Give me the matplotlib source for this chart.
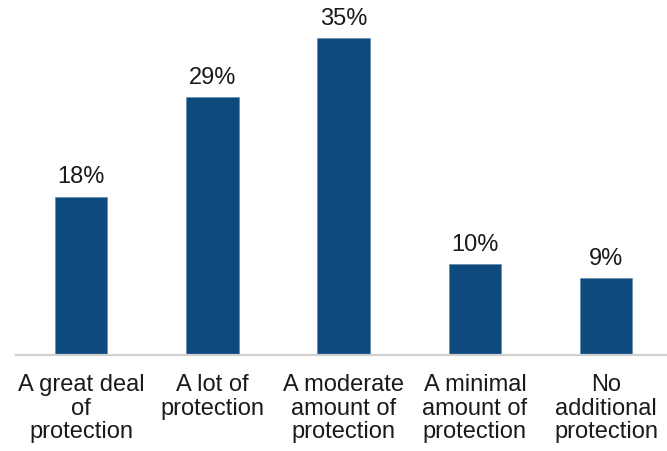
import matplotlib
matplotlib.use('Agg')
import matplotlib.pyplot as plt

categories = ['A great deal\nof\nprotection', 'A lot of\nprotection',
              'A moderate\namount of\nprotection', 'A minimal\namount of\nprotection',
              'No\nadditional\nprotection']
values = [17.5, 28.5, 35.0, 10.0, 8.5]
value_labels = ['18%', '29%', '35%', '10%', '9%']

plt.rcParams['font.family'] = ['Liberation Sans', 'DejaVu Sans']

fig = plt.figure(figsize=(6.67, 4.51), dpi=100)
ax = fig.add_axes([16 / 667, 96 / 451, 1 - 16 / 667, 1 - 96 / 451])

x = list(range(len(categories)))
bars = ax.bar(x, values, width=0.4, color='#0e4a7e', edgecolor='#5a86ad', linewidth=0.4)

for b, lab in zip(bars, value_labels):
    ax.text(b.get_x() + b.get_width() / 2, b.get_height() + 0.9, lab,
            ha='center', va='bottom', fontsize=17, color='#1a1a1a')

ax.set_xlim(-0.495, 4.463)
ax.set_ylim(0, 39.2)
ax.set_xticks(x)
ax.set_xticklabels(categories, fontsize=17, color='#1a1a1a', linespacing=1.08)
ax.tick_params(axis='x', length=0, pad=14)
ax.set_yticks([])

for s in ['top', 'right', 'left']:
    ax.spines[s].set_visible(False)
ax.spines['bottom'].set_color('#d0d0d0')
ax.spines['bottom'].set_linewidth(1.6)

fig.savefig('out.png', dpi=100)
